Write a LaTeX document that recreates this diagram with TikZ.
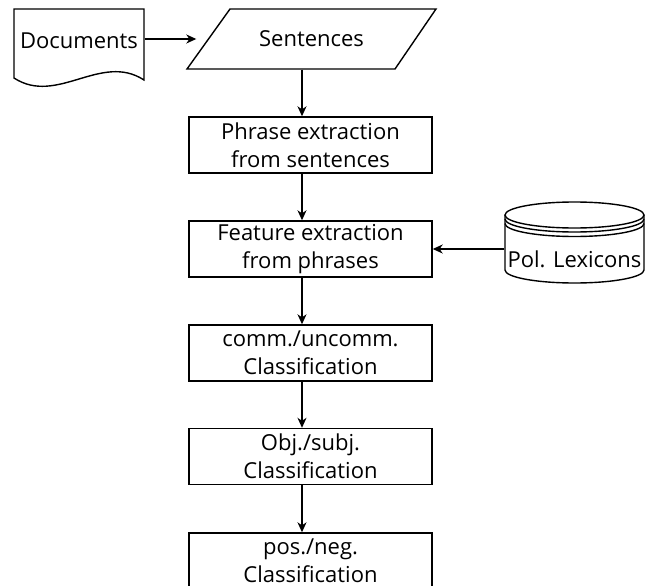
\documentclass[tikz,border=0pt]{standalone}
\usepackage{fontspec}
\setmainfont{Open Sans}
\usetikzlibrary{arrows.meta}
\begin{document}
\begin{tikzpicture}[x=1pt,y=-1pt,line width=1.4pt,
  box/.style={draw,rectangle,minimum width=243pt,minimum height=56pt,inner sep=0pt,align=center,font=\fontsize{22}{28}\selectfont},
  lbl/.style={inner sep=0pt,font=\fontsize{22}{28}\selectfont},
  arr/.style={-{Stealth[length=10pt,width=9pt,inset=3pt]}}]
\useasboundingbox (0,0) rectangle (648,586);
% document shape
\draw (14,78) -- (14,9) -- (144,9) -- (144,80) .. controls (101,52) and (57,106) .. cycle;
\node[lbl,minimum width=130pt,minimum height=40pt] (docs) at (79,41) {Documents};
% sentences parallelogram
\draw (230,9) -- (436,9) -- (395,69) -- (187,69) -- cycle;
\node[lbl,minimum width=229pt,minimum height=60pt] (sent) at (311.5,39) {Sentences};
% process boxes
\node[box] (p1) at (310.5,145) {Phrase extraction\\from sentences};
\node[box] (p2) at (310.5,249) {Feature extraction\\from phrases};
\node[box] (p3) at (310.5,353) {comm./uncomm.\\Classification};
\node[box] (p4) at (310.5,456.5) {Obj./subj.\\Classification};
\node[box] (p5) at (310.5,561) {pos./neg.\\Classification};
% database
\draw (574.5,215) ellipse [x radius=69.5pt,y radius=13pt];
\draw (505,219) arc[start angle=180,end angle=360,x radius=69.5pt,y radius=13pt];
\draw (505,223.5) arc[start angle=180,end angle=360,x radius=69.5pt,y radius=13pt];
\draw (505,215) -- (505,270) arc[start angle=180,end angle=360,x radius=69.5pt,y radius=13pt] -- (644,215);
\node[lbl,minimum width=139pt,minimum height=20pt] (db) at (574.5,259) {Pol. Lexicons};
% connectors
\coordinate (ax) at (302,0);
\draw[arr] (docs.east |- sent.west) -- (sent.west);
\draw[arr] (sent.south -| ax) -- (p1.north -| ax);
\draw[arr] (p1.south -| ax) -- (p2.north -| ax);
\draw[arr] (p2.south -| ax) -- (p3.north -| ax);
\draw[arr] (p3.south -| ax) -- (p4.north -| ax);
\draw[arr] (p4.south -| ax) -- (p5.north -| ax);
\draw[arr] (db.west |- p2.east) -- (p2.east);
\end{tikzpicture}
\end{document}
